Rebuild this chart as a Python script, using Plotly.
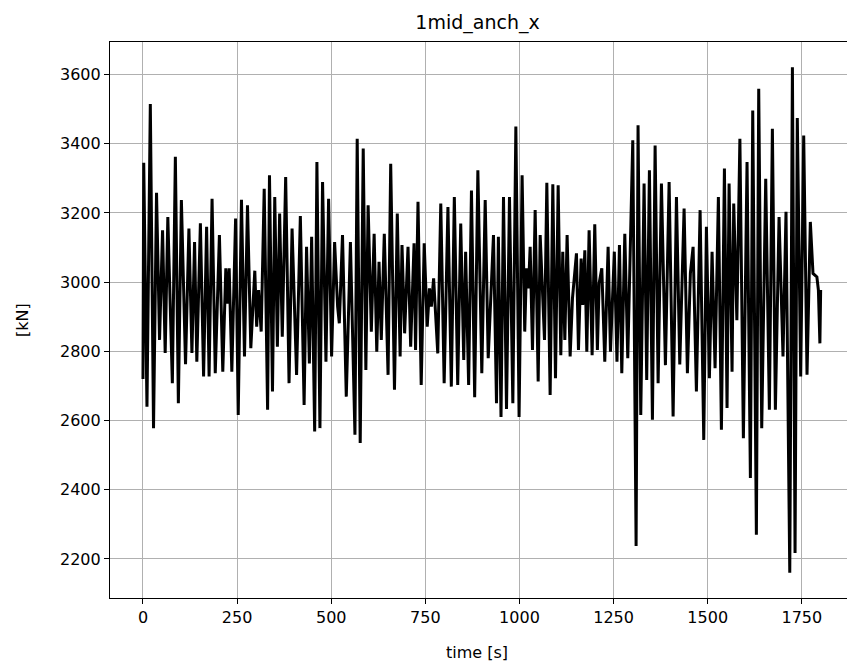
import plotly.graph_objects as go

# Time series (extrema of the oscillation, seconds / kN)
time_s = [0, 2, 10.6, 19.5, 28, 36, 44, 52, 59, 66, 78, 86, 94, 102, 113, 122, 130, 137, 143,
          152.5, 161, 169, 175.6, 183.5, 192, 203, 212, 220, 224.4, 229, 236, 246, 253, 261.6,
          269.6, 277.6, 286.4, 297, 302, 307, 314, 322, 331, 336, 344, 350, 357, 363, 370, 379,
          388, 396, 408, 418, 428, 434.5, 442, 448, 456, 462, 470, 477, 486, 493, 501, 509, 517,
          521.5, 530, 540, 551, 563, 569, 577, 585, 592, 598, 606.5, 614, 621, 627, 633, 641,
          651, 658, 668, 675.5, 683, 688, 695, 704, 711, 720, 724, 730.5, 739, 747, 755, 761,
          766, 772, 783, 791, 800, 810, 819, 827, 836, 844, 852, 857, 865, 872.5, 881, 889.5,
          900, 909, 917, 931, 939, 944, 951, 957.6, 965.6, 973.5, 982.4, 990.4, 999, 1007, 1014,
          1018.7, 1024, 1028.4, 1034.6, 1041.7, 1049.7, 1055, 1066.5, 1072.7, 1081.5, 1088.6,
          1095.7, 1102.8, 1109.8, 1115, 1120.5, 1126.6, 1134.6, 1140.8, 1151.4, 1156.7, 1163.8,
          1168.2, 1173.6, 1178.9, 1185, 1193, 1200, 1207, 1211.6, 1218.7, 1226.6, 1235.5,
          1241.7, 1252, 1259, 1265.6, 1271.8, 1279.8, 1287.7, 1301, 1309.8, 1315, 1322.2, 1331,
          1338, 1345.2, 1353.2, 1360.3, 1368.3, 1377.1, 1387.7, 1397.5, 1408.1, 1417, 1425.8,
          1437.3, 1446.1, 1454, 1461.2, 1470, 1479.8, 1489.5, 1496.6, 1504.5, 1511.6, 1519.6,
          1528.4, 1536.4, 1544.4, 1551.4, 1556.8, 1564.7, 1569.1, 1577.5, 1585.5, 1594.8,
          1604.5, 1613.4, 1619.6, 1629.3, 1635.5, 1643.5, 1654.1, 1663.8, 1671.8, 1679.8,
          1689.5, 1700, 1708, 1718, 1725, 1732, 1738, 1747, 1755, 1763.8, 1772.6, 1779.7, 1785,
          1790, 1794, 1798, 1800]
force_kN = [2720, 3345, 2640, 3515, 2578, 3258, 2833, 3150, 2795, 3188, 2708, 3362, 2650, 3237, 2763,
            3155, 2795, 3116, 2770, 3170, 2727, 3160, 2727, 3241, 2737, 3136, 2741, 3040, 2938,
            3040, 2741, 3184, 2616, 3238, 2785, 3222, 2809, 3033, 2871, 2977, 2857, 3270, 2631,
            3309, 2684, 3246, 2813, 3198, 2842, 3304, 2708, 3155, 2732, 3191, 2645, 3102, 2765,
            3131, 2568, 3347, 2578, 3289, 2770, 3241, 2785, 3116, 2929, 2881, 3136, 2669, 3116,
            2559, 3414, 2535, 3386, 2746, 3222, 2857, 3140, 2799, 3059, 2833, 3140, 2732, 3342,
            2689, 3198, 2785, 3107, 2852, 3102, 2813, 3112, 2804, 3232, 2703, 3112, 2871, 2982,
            2929, 3011, 2794, 3227, 2708, 3217, 2698, 3246, 2703, 3169, 2775, 3088, 2703, 3265,
            2667, 3323, 2737, 3237, 2780, 3136, 2650, 3131, 2610, 3246, 2633, 3246, 2650, 3450,
            2610, 3309, 2857, 3040, 2982, 3102, 2804, 3208, 2713, 3136, 2833, 3287, 2674, 3283,
            2722, 3280, 2789, 3088, 2833, 3136, 2785, 2953, 3083, 2804, 3068, 2934, 3092, 2799,
            3150, 2789, 3167, 2804, 2996, 3040, 2770, 3102, 2799, 3088, 2770, 3107, 2737, 3140,
            2780, 3410, 2237, 3453, 2616, 3285, 2717, 3323, 2602, 3395, 2708, 3285, 2760, 3289,
            2612, 3246, 2762, 3213, 2737, 3025, 3102, 2684, 3208, 2544, 3160, 2722, 3088, 2751,
            3246, 2573, 3328, 2636, 3285, 2741, 3227, 2890, 3414, 2549, 3347, 2434, 3496, 2270,
            3559, 2578, 3299, 2631, 3443, 2631, 3188, 2785, 3203, 2160, 3621, 2217, 3474, 2727,
            3424, 2732, 3174, 3025, 3020, 3015, 2977, 2823, 2977]

x_ticks = [0, 250, 500, 750, 1000, 1250, 1500, 1750]
y_ticks = [2200, 2400, 2600, 2800, 3000, 3200, 3400, 3600]
title_text = "1mid_anch_x"
x_label = "time [s]"
y_label = "[kN]"

W, H = 847, 665
L, R, T, B = 110, 0, 42, 67
pw, ph = W - L - R, H - T - B

fig = go.Figure()
fig.add_trace(go.Scatter(x=time_s, y=force_kN, mode="lines",
                         line=dict(color="black", width=3), showlegend=False))

font = dict(family="DejaVu Sans, sans-serif", size=16, color="black")
axis_common = dict(showgrid=True, gridcolor="#b0b0b0", gridwidth=1,
                   showline=True, linecolor="black", linewidth=1.2, mirror=True,
                   ticks="outside", ticklen=5, tickwidth=1.2, tickcolor="black",
                   zeroline=False, tickfont=font)
fig.update_xaxes(range=[-87.6, 1870], tickvals=x_ticks, **axis_common)
fig.update_yaxes(range=[2087, 3694], tickvals=y_ticks, **axis_common)

fig.update_layout(
    width=W, height=H,
    margin=dict(l=L, r=R, t=T, b=B),
    paper_bgcolor="white", plot_bgcolor="white",
    title=dict(text=title_text, x=(L + (845 - L) / 2) / W, xanchor="center",
               y=1 - 22 / H, yanchor="middle", yref="container",
               font=dict(family="DejaVu Sans, sans-serif", size=19, color="black")),
    annotations=[
        dict(text=x_label, xref="paper", yref="paper", x=(477 - L) / pw, y=(598 - 652) / ph,
             showarrow=False, font=font, xanchor="center", yanchor="middle"),
        dict(text=y_label, xref="paper", yref="paper", x=(22 - L) / pw, y=0.5,
             showarrow=False, font=font, textangle=-90, xanchor="center", yanchor="middle"),
    ],
)

fig.write_html("out.html")
